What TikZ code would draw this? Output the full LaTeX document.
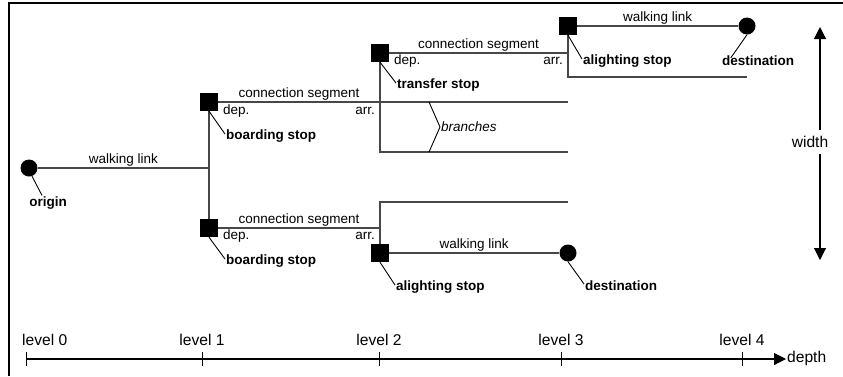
\documentclass[tikz,border=0pt]{standalone}
\usepackage{fontspec}
\setmainfont{Liberation Sans}
\usetikzlibrary{arrows.meta}

\begin{document}
\begin{tikzpicture}[x=1pt, y=-1pt,
	link/.style={draw=black!72, line width=1.3pt},
	leader/.style={draw=black, line width=0.9pt},
	stopbox/.style={rectangle, fill=black, minimum size=18pt, inner sep=0pt},
	endnode/.style={circle, fill=black, minimum size=17pt, inner sep=0pt},
	txt/.style={font=\fontsize{13.5}{16}\selectfont, inner sep=1pt},
	bold/.style={font=\fontsize{13.5}{16}\selectfont\bfseries, inner sep=1pt},
	ax/.style={font=\fontsize{15.6}{18}\selectfont, inner sep=1pt},
	tip/.style={-{Triangle[width=12pt,length=12pt]}}]
	\useasboundingbox (0,0) rectangle (843,376);
	% frame
	\draw[line width=2.5pt] (843,3) -- (9,3) -- (9,376);
	% stops and end points
	\node[endnode] (orig) at (29,168) {};
	\node[stopbox] (bs1) at (209,102) {};
	\node[stopbox] (bs2) at (209,228) {};
	\node[stopbox] (ts) at (380,53) {};
	\node[stopbox] (as1) at (568,26) {};
	\node[endnode] (dest1) at (747,26) {};
	\node[stopbox] (as2) at (380,253) {};
	\node[endnode] (dest2) at (568,253) {};
	% corners of the tree
	\coordinate (j0) at (209,168);
	\coordinate (arr1) at (380,102);
	\coordinate (br1) at (568,102);
	\coordinate (tb) at (380,152);
	\coordinate (br2) at (568,152);
	\coordinate (arr3) at (568,53);
	\coordinate (tf) at (568,77);
	\coordinate (br3) at (747,77);
	\coordinate (arr2) at (380,228);
	\coordinate (lf) at (380,202);
	\coordinate (br4) at (568,202);
	% links
	\draw[link] (orig) -- (j0) node[midway, above, txt] {walking link};
	\draw[link] (bs1) -- (bs2);
	\draw[link] (bs1) -- (arr1) node[midway, above, txt] {connection segment};
	\draw[link] (arr1) -- (br1);
	\draw[link] (ts) -- (tb) -- (br2);
	\draw[link] (ts) -- (arr3) node[midway, above, txt] {connection segment};
	\draw[link] (as1) -- (tf) -- (br3);
	\draw[link] (as1) -- (dest1) node[midway, above, txt] {walking link};
	\draw[link] (bs2) -- (arr2) node[midway, above, txt] {connection segment};
	\draw[link] (br4) -- (lf) -- (as2);
	\draw[link] (as2) -- (dest2) node[midway, above, txt] {walking link};
	% dep. / arr.
	\node[txt, anchor=west] (dep1) at (222,111) {dep.};
	\node[txt, anchor=east] (arrl1) at (376,111) {arr.};
	\node[txt, anchor=west] (dep2) at (393,61) {dep.};
	\node[txt, anchor=east] (arrl2) at (564,61) {arr.};
	\node[txt, anchor=west] (dep3) at (222,236) {dep.};
	\node[txt, anchor=east] (arrl3) at (376,236) {arr.};
	% bold labels
	\node[bold] (ol) at (48,203) {origin};
	\draw[leader] (orig.-70) -- ([xshift=14pt]ol.north west);
	\node[bold, anchor=west] (bsl1) at (225,136) {boarding stop};
	\draw[leader] (bs1.south) -- ([yshift=2pt]bsl1.west);
	\node[bold, anchor=west] (bsl2) at (225,261) {boarding stop};
	\draw[leader] (bs2.south) -- ([yshift=2pt]bsl2.west);
	\node[bold, anchor=west] (tsl) at (396,85) {transfer stop};
	\draw[leader] (ts.south) -- ([yshift=2pt]tsl.west);
	\node[bold, anchor=west] (asl1) at (582,61) {alighting stop};
	\draw[leader] (as1.south) -- ([yshift=2pt]asl1.west);
	\node[bold, anchor=west] (asl2) at (395,287) {alighting stop};
	\draw[leader] (as2.south) -- ([yshift=2pt]asl2.west);
	\node[bold] (dl1) at (758,61) {destination};
	\draw[leader] (dest1.south) -- ([xshift=10pt,yshift=-3pt]dl1.north west);
	\node[bold, anchor=west] (dl2) at (584,286) {destination};
	\draw[leader] (dest2.south) -- ([yshift=2pt]dl2.west);
	% branches
	\coordinate (bt) at (429,102);
	\coordinate (bb) at (429,152);
	\node[txt, font=\fontsize{13.5}{16}\selectfont\itshape, anchor=west] (brl) at (440,127) {branches};
	\draw[leader] (bt) -- (brl.west) -- (bb);
	% width arrow
	\coordinate (wtop) at (820,27);
	\coordinate (wbot) at (820,260);
	\node[ax, inner ysep=6pt] (wd) at (810,142) {width};
	\draw[tip, line width=1.1pt] (wd.north -| wtop) -- (wtop);
	\draw[tip, line width=1.1pt] (wd.south -| wbot) -- (wbot);
	% depth axis
	\coordinate (ax0) at (26,359);
	\node[ax, anchor=west] (depth) at (786,358) {depth};
	\draw[tip, line width=1.1pt] (ax0) -- (ax0 -| depth.west);
	\foreach \x/\n in {26/0,202/1,379/2,561/3,742/4}
		\draw[line width=1pt] (\x,352) -- (\x,366);
	\node[ax, anchor=west] (lv0) at (21,340) {level 0};
	\foreach \x/\n in {202/1,379/2,561/3,742/4}
		\node[ax] (lv\n) at (\x,340) {level \n};
\end{tikzpicture}
\end{document}
